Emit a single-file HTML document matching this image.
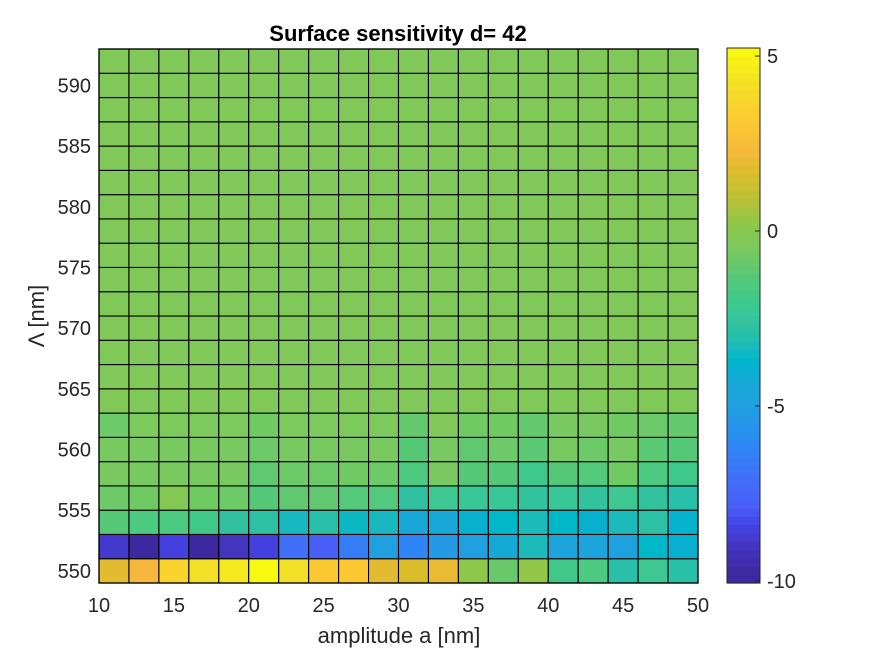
<!DOCTYPE html>
<html><head><meta charset="utf-8">
<style>
html,body{margin:0;padding:0;background:#fff;}
svg{display:block;font-family:"Liberation Sans",Arial,sans-serif;}
</style></head>
<body>
<svg id="chart" width="875" height="656" viewBox="0 0 875 656" xmlns="http://www.w3.org/2000/svg">
<rect x="0" y="0" width="875" height="656" fill="#ffffff"/>
<g id="cells"></g>
<g id="axes"></g>
<g id="cbar"></g>
<text x="398" y="41" text-anchor="middle" font-size="22" font-weight="bold" fill="#000">Surface sensitivity d= 42</text>
<text x="399" y="643" text-anchor="middle" font-size="22" fill="#262626">amplitude a [nm]</text>
<text x="0" y="0" transform="translate(44,316) rotate(-90)" text-anchor="middle" font-size="22" fill="#262626">Λ [nm]</text>
</svg>
<script>
// Data
const xEdges = [10,12,14,16,18,20,22,24,26,28,30,32,34,36,38,40,42,44,46,48,50];
const yCenters = [550,552,554,556,558,560,562,564,566,568,570,572,574,576,578,580,582,584,586,588,590,592];
const row550 = [1.9,2.2,3.7,4.2,4.5,5.2,4.2,3.1,3.1,1.9,1.7,2.0,0.2,-0.9,0.3,-1.9,-1.6,-2.9,-2.1,-2.9];
const row552 = [-8.8,-9.8,-8.5,-9.8,-9.0,-8.5,-7.0,-7.8,-6.5,-5.0,-6.2,-5.3,-5.0,-4.3,-3.3,-4.7,-4.7,-4.9,-3.6,-3.9];
const row554 = [-1.3,-1.6,-1.6,-1.9,-2.7,-2.8,-3.4,-2.9,-3.5,-3.4,-4.4,-4.4,-3.9,-3.6,-3.3,-3.6,-3.9,-3.3,-2.8,-3.8];
const row556 = [-0.8,-0.7,-0.2,-0.7,-0.8,-1.3,-1.1,-1.1,-1.4,-1.4,-2.7,-2.1,-2.3,-2.3,-2.6,-2.3,-2.6,-2.1,-2.6,-2.9];
const row558 = [-0.5,-0.5,-0.5,-0.5,-0.5,-1.1,-0.8,-0.8,-0.7,-0.8,-1.6,-0.5,-1.3,-1.3,-2.0,-1.3,-1.4,-0.7,-1.6,-2.0];
const row560 = [-0.5,-0.5,-0.5,-0.5,-0.5,-0.8,-0.5,-0.5,-0.5,-0.5,-1.3,-0.5,-1.1,-0.8,-1.2,-0.5,-0.8,-0.5,-1.2,-1.3];
const row562 = [-0.8,-0.4,-0.4,-0.4,-0.4,-0.7,-0.4,-0.4,-0.4,-0.4,-1.0,-0.3,-0.7,-0.7,-1.0,-0.5,-0.5,-0.7,-0.8,-1.0];
const rowFlat = [-0.3,-0.3,-0.3,-0.3,-0.3,-0.3,-0.3,-0.3,-0.3,-0.3,-0.3,-0.3,-0.3,-0.3,-0.3,-0.3,-0.3,-0.3,-0.3,-0.3];
const xTicks = [10,15,20,25,30,35,40,45,50];
const yTicks = [550,555,560,565,570,575,580,585,590];
const cTicks = [5,0,-5,-10];
const cMin = -10.06, cMax = 5.23;

const rows = [row550,row552,row554,row556,row558,row560,row562];
while (rows.length < yCenters.length) rows.push(rowFlat);

// Layout
const PL=99, PR=698, PT=49, PB=583;
const xMin=10,xMax=50,yMin=549,yMax=593;
const sx = v => PL + (v-xMin)/(xMax-xMin)*(PR-PL);
const sy = v => PB - (v-yMin)/(yMax-yMin)*(PB-PT);
const CBL=727, CBR=760, CBT=48, CBB=583;
const sc = v => CBB - (v-cMin)/(cMax-cMin)*(CBB-CBT);

// colormap stops in value space
const stops = [
 [-10.06,'#3e26a8'],[-9.8,'#3e28a0'],[-9.0,'#4435c0'],[-8.5,'#4440e0'],[-7.8,'#4860f8'],
 [-7.0,'#4070f8'],[-6.2,'#2e85f5'],[-5.0,'#20a0e0'],[-4.4,'#18a8d8'],[-3.9,'#08b0d0'],
 [-3.6,'#00b8c8'],[-3.4,'#18b8c0'],[-2.9,'#28c0a8'],[-2.7,'#30c0a0'],[-2.3,'#38c898'],
 [-1.9,'#40c888'],[-1.6,'#4cca80'],[-1.3,'#55c878'],[-1.1,'#60c870'],[-0.8,'#6cca68'],
 [-0.7,'#70ca62'],[-0.5,'#78ca60'],[-0.3,'#80c858'],[0.2,'#8dc84a'],[0.9,'#b8c035'],
 [1.7,'#dbbd2c'],[1.9,'#e3bb30'],[2.2,'#f5b83d'],[3.1,'#fcc832'],[3.7,'#f9d42c'],
 [4.2,'#f3df25'],[4.5,'#f5e81f'],[5.23,'#f8fa0f']];
function hex(h){return [1,3,5].map(i=>parseInt(h.substr(i,2),16));}
function cmap(v){
  if(v<=stops[0][0]) return stops[0][1];
  for(let i=1;i<stops.length;i++){
    if(v<=stops[i][0]){
      const a=stops[i-1],b=stops[i],f=(v-a[0])/(b[0]-a[0]);
      const A=hex(a[1]),B=hex(b[1]);
      return 'rgb('+A.map((c,k)=>Math.round(c+(B[k]-c)*f)).join(',')+')';
    }
  }
  return stops[stops.length-1][1];
}
const NS='http://www.w3.org/2000/svg';
function mk(tag,attrs,parent){const e=document.createElementNS(NS,tag);for(const k in attrs)e.setAttribute(k,attrs[k]);parent.appendChild(e);return e;}

const cells=document.getElementById('cells');
for(let r=0;r<yCenters.length;r++){
  for(let c=0;c<xEdges.length-1;c++){
    const y0=sy(yCenters[r]+1), y1=sy(yCenters[r]-1);
    const x0=sx(xEdges[c]), x1=sx(xEdges[c+1]);
    const e=mk('rect',{x:x0,y:y0,width:x1-x0,height:y1-y0,fill:cmap(rows[r][c]),stroke:'#000','stroke-width':1.1},cells);
    
    
  }
}
const axes=document.getElementById('axes');
const frame=mk('rect',{x:PL,y:PT,width:PR-PL,height:PB-PT,fill:'none',stroke:'#000','stroke-width':1.3},axes);


xTicks.forEach(v=>{
  const t=mk('text',{x:sx(v),y:PB+29,'text-anchor':'middle','font-size':20,fill:'#262626'},axes);
  t.textContent=v;
  
  
});
yTicks.forEach(v=>{
  const t=mk('text',{x:PL-8,y:sy(v)+7,'text-anchor':'end','font-size':20,fill:'#262626'},axes);
  t.textContent=v;
  
  
});
const cb=document.getElementById('cbar');
const N=64;
for(let i=0;i<N;i++){
  const v0=cMin+(cMax-cMin)*i/N, v1=cMin+(cMax-cMin)*(i+1)/N;
  const e=mk('rect',{x:CBL,y:sc(v1),width:CBR-CBL,height:sc(v0)-sc(v1)+0.6,fill:cmap((v0+v1)/2)},cb);
  
  
}
const cf=mk('rect',{x:CBL,y:CBT,width:CBR-CBL,height:CBB-CBT,fill:'none',stroke:'#262626','stroke-width':1},cb);


cTicks.forEach(v=>{
  const l=mk('line',{x1:CBR-5,x2:CBR,y1:sc(v),y2:sc(v),stroke:'#262626','stroke-width':1},cb);
  
  
  const t=mk('text',{x:CBR+7,y:sc(v)+7,'font-size':20,fill:'#262626'},cb);
  t.textContent=v;
  
  
});
</script>
</body></html>
